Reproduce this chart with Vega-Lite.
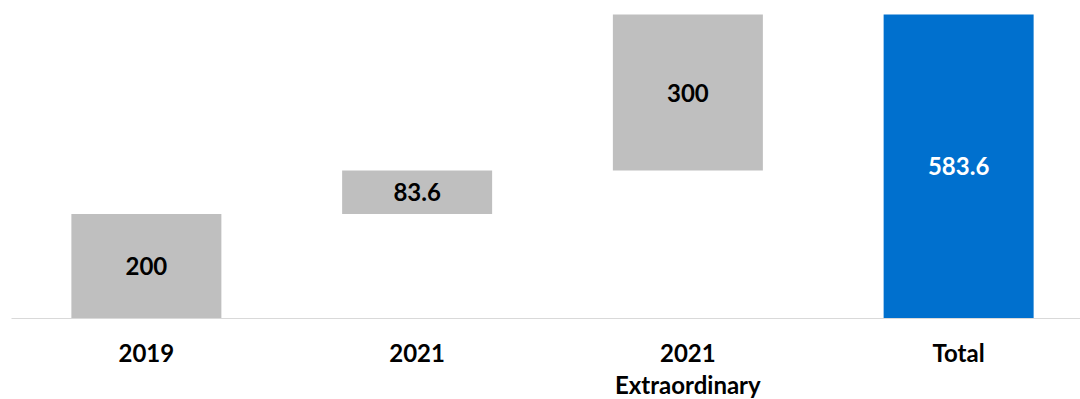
{
  "$schema": "https://vega.github.io/schema/vega-lite/v6.json",
  "autosize": {"type": "none"},
  "padding": {"left": 11, "top": 0, "right": 0, "bottom": 81},
  "width": 1083,
  "height": 318,
  "background": "white",
  "config": {"view": {"stroke": null}, "font": "Lato"},
  "data": {
    "values": [
      {"cat": "2019", "start": 0, "end": 200, "label": "200", "kind": "step"},
      {"cat": "2021", "start": 200, "end": 283.6, "label": "83.6", "kind": "step"},
      {"cat": "2021 Extraordinary", "start": 283.6, "end": 583.6, "label": "300", "kind": "step"},
      {"cat": "Total", "start": 0, "end": 583.6, "label": "583.6", "kind": "total"}
    ]
  },
  "transform": [{"calculate": "(datum.start + datum.end) / 2", "as": "mid"}],
  "encoding": {
    "x": {
      "field": "cat",
      "type": "nominal",
      "sort": null,
      "scale": {"paddingInner": 0, "paddingOuter": 0},
      "axis": {
        "title": null,
        "labelAngle": 0,
        "labelFont": "Lato",
        "labelFontWeight": "bold",
        "labelFontSize": 24,
        "labelColor": "#000000",
        "labelPadding": 36,
        "labelLineHeight": 32,
        "labelBaseline": "middle",
        "labelExpr": "datum.value == '2021 Extraordinary' ? ['2021', 'Extraordinary'] : datum.value",
        "ticks": false,
        "domainColor": "#d9d9d9",
        "domainWidth": 1
      }
    }
  },
  "layer": [
    {
      "mark": {"type": "bar", "size": 150},
      "encoding": {
        "y": {"field": "start", "type": "quantitative", "scale": {"domain": [0, 611.5], "nice": false}, "axis": null},
        "y2": {"field": "end"},
        "color": {"field": "kind", "type": "nominal", "scale": {"domain": ["step", "total"], "range": ["#bfbfbf", "#0070ce"]}, "legend": null}
      }
    },
    {
      "mark": {"type": "text", "font": "Lato", "fontWeight": "bold", "fontSize": 24, "baseline": "middle", "align": "center", "dy": 2},
      "encoding": {
        "y": {"field": "mid", "type": "quantitative"},
        "text": {"field": "label"},
        "color": {"field": "kind", "type": "nominal", "scale": {"domain": ["step", "total"], "range": ["#000000", "#ffffff"]}, "legend": null}
      }
    }
  ],
  "resolve": {"scale": {"color": "independent"}}
}
